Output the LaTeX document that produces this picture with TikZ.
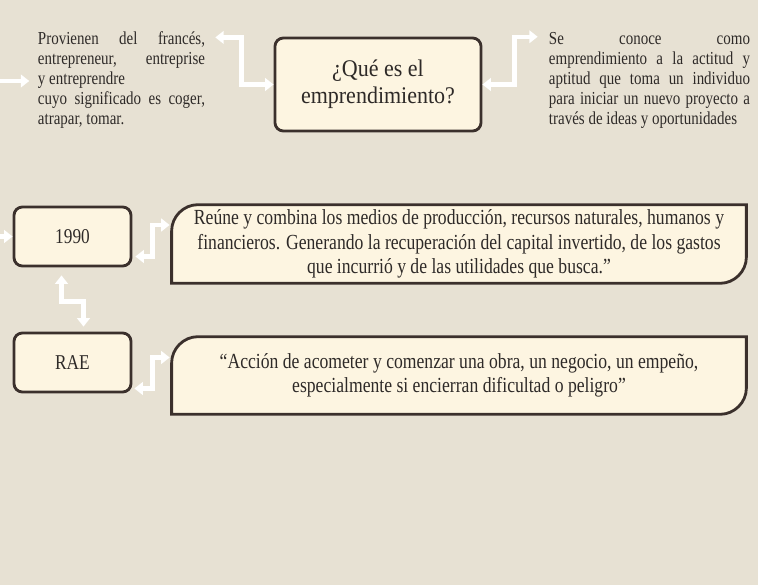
\documentclass[tikz,border=0pt]{standalone}
\usepackage{fontspec}
\setmainfont[FakeStretch=0.82]{Liberation Serif}
\newfontfamily\titlefont[FakeStretch=0.92]{Liberation Serif}
\usepackage{xcolor}
\usepackage{tikz}
\usetikzlibrary{arrows.meta,backgrounds}
\definecolor{pagebg}{HTML}{E7E1D3}
\definecolor{boxfill}{HTML}{FDF5E1}
\definecolor{boxline}{HTML}{3B302C}
\definecolor{textc}{HTML}{2E2A28}
\tikzset{
  mybox/.style={
    draw=boxline, fill=boxfill, line width=2pt, rounded corners=6pt,
    text=textc, align=center, inner sep=2pt,
  },
  sidetxt/.style={
    text=textc, align=justify, inner sep=0pt,
    font=\fontsize{13}{14.2}\selectfont,
  },
  quotebox/.style={
    text=textc, align=center, inner sep=2pt,
    minimum width=14.35cm, font=\fontsize{15.3}{17.5}\selectfont,
  },
  frame/.style={draw=boxline, fill=boxfill, line width=2pt},
  warrow/.style={white, line width=3pt, -{Triangle[length=6pt,width=9pt]}},
  wboth/.style={white, line width=3pt, {Triangle[length=6pt,width=9pt]}-{Triangle[length=6pt,width=9pt]}},
}
% frame with two round corners (top left, bottom right)
\newcommand{\quoteframe}[1]{%
  \filldraw[frame] (#1.south west) -- ([shift={(0,26)}]#1.north west)
    .. controls ([shift={(0,12)}]#1.north west) and ([shift={(12,0)}]#1.north west)
    .. ([shift={(26,0)}]#1.north west) -- (#1.north east)
    -- ([shift={(0,-26)}]#1.south east)
    .. controls ([shift={(0,-12)}]#1.south east) and ([shift={(-12,0)}]#1.south east)
    .. ([shift={(-26,0)}]#1.south east) -- cycle;}

\begin{document}
\begin{tikzpicture}[x=0.025cm, y=-0.025cm]

  \begin{pgfonlayer}{background}
    \fill[pagebg] (0,0) rectangle (758,585);
  \end{pgfonlayer}
  \useasboundingbox (0,0) rectangle (758,585);

  \node[sidetxt, text width=4.175cm] (origen) at (121.5,80)
    {Provienen del francés,\linebreak entrepreneur, entreprise\linebreak
     y entreprendre\newline cuyo significado es coger,\linebreak atrapar, tomar.};
  \node[mybox, minimum width=5.15cm, minimum height=2.325cm,
    font=\titlefont\fontsize{17}{19.5}\selectfont] (que) at (378,84.5)
    {¿Qué es el\\emprendimiento?};
  \node[sidetxt, text width=5.025cm] (concepto) at (649.5,80)
    {Se conoce como\linebreak emprendimiento a la actitud y\linebreak
     aptitud que toma un individuo\linebreak para iniciar un nuevo proyecto a\linebreak
     través de ideas y oportunidades};

  \node[mybox, minimum width=2.925cm, minimum height=1.475cm,
    font=\fontsize{15}{17}\selectfont] (anio) at (72.5,236.5) {1990};
  \node[mybox, minimum width=2.925cm, minimum height=1.475cm,
    font=\fontsize{15}{17}\selectfont] (rae) at (72.5,362.5) {RAE};

  \node[quotebox, minimum height=1.95cm] (reune) at (459,244)
    {Reúne y combina los medios de producción, recursos naturales, humanos y\\
     financieros. Generando la recuperación del capital invertido, de los gastos\\
     que incurrió y de las utilidades que busca.”};
  \node[quotebox, minimum height=1.925cm] (accion) at (459,375.5)
    {“Acción de acometer y comenzar una obra, un negocio, un empeño,\\
     especialmente si encierran dificultad o peligro”};

  \begin{scope}[on background layer]
    \quoteframe{reune}
    \quoteframe{accion}
  \end{scope}

  \coordinate (in0) at (0,81);
  \coordinate (in1) at (anio.west -| 0,0);

  \draw[warrow] (in0) -- ([xshift=-6pt]in0 -| origen.west);
  \draw[wboth] ([shift={(10,6)}]origen.north east) -| ([shift={(-32,0)}]que.west) -- (que.west);
  \draw[wboth] (que.east) -- ++(32,0) |- ([shift={(-11,5)}]concepto.north west);
  \draw[warrow] (in1) -- (anio.west);
  \draw[wboth] ([shift={(3,20)}]anio.east) -- ++(17,0) |- ([shift={(-2,-19)}]reune.west);
  \draw[wboth] ([shift={(-11,8)}]anio.south) -- ++(0,26) -| ([shift={(11,-5)}]rae.north);
  \draw[wboth] ([shift={(2,26)}]rae.east) -- ++(18,0) |- ([shift={(-2,-18)}]accion.west);

\end{tikzpicture}
\end{document}
